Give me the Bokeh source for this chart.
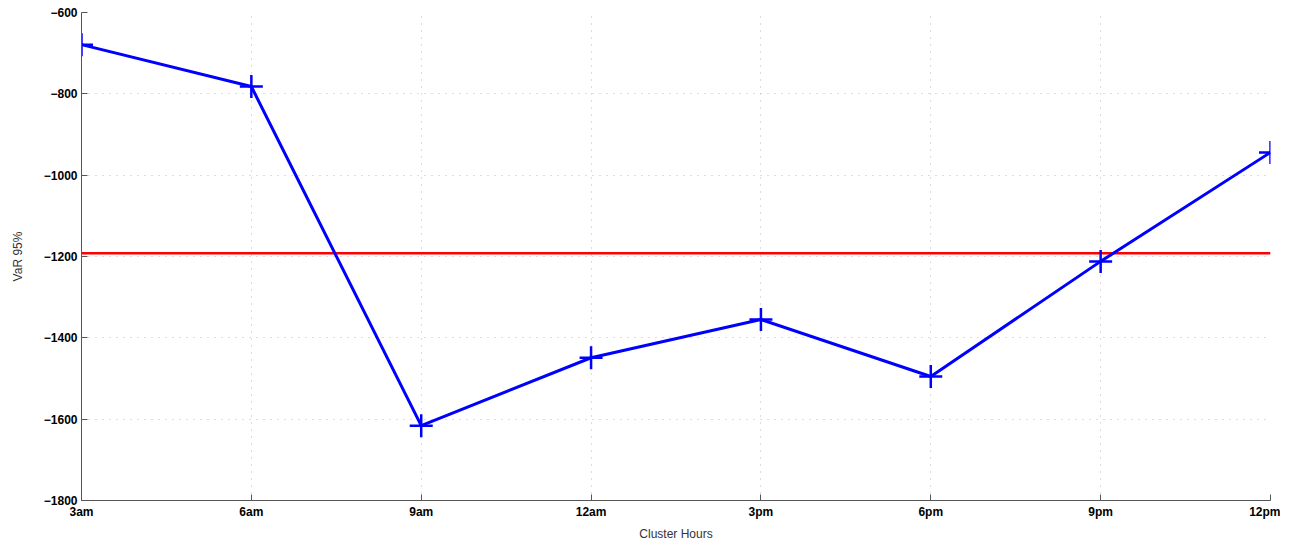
from bokeh.plotting import figure
from bokeh.models import Range1d, FixedTicker
from bokeh.embed import file_html
from bokeh.resources import INLINE

hours = ["3am", "6am", "9am", "12am", "3pm", "6pm", "9pm", "12pm"]
var95 = [-679, -782, -1616, -1449, -1355, -1495, -1212, -944]
threshold = [-1192, -1192, -1192, -1192, -1192, -1192, -1192, -1192]

xs = list(range(len(hours)))

p = figure(width=1280, height=544, output_backend="svg", toolbar_location=None,
           x_range=Range1d(0, len(hours) - 1), y_range=Range1d(-1800, -600),
           min_border_left=81, min_border_right=10, min_border_top=12, min_border_bottom=44)
p.outline_line_color = None
p.background_fill_color = "white"

p.line(xs, threshold, line_color="#ff0000", line_width=2.5)
p.line(xs, var95, line_color="#0000ff", line_width=3)
p.scatter(xs, var95, marker="cross", size=23, line_color="#0000ff", line_width=2.5)

p.xaxis.ticker = FixedTicker(ticks=xs)
p.xaxis.major_label_overrides = {i: h for i, h in enumerate(hours)}
p.yaxis.ticker = FixedTicker(ticks=[-1800, -1600, -1400, -1200, -1000, -800, -600])

for ax in (p.xaxis, p.yaxis):
    ax.axis_line_color = "#555555"
    ax.major_tick_line_color = "#555555"
    ax.major_tick_in = 6
    ax.major_tick_out = 0
    ax.minor_tick_line_color = None
    ax.major_label_text_font = "Liberation Sans"
    ax.major_label_text_font_style = "bold"
    ax.major_label_text_font_size = "12px"
    ax.major_label_text_color = "black"
    ax.axis_label_text_font = "Liberation Sans"
    ax.axis_label_text_font_style = "normal"
    ax.axis_label_text_font_size = "12px"
    ax.axis_label_text_color = "#333333"

p.xaxis.axis_label = "Cluster Hours"
p.yaxis.axis_label = "VaR 95%"
p.xaxis.major_label_standoff = 4
p.yaxis.major_label_standoff = 4
p.xaxis.axis_label_standoff = 5
p.yaxis.axis_label_standoff = 16

p.grid.grid_line_color = "#bbbbbb"
p.grid.grid_line_dash = "1 6"
p.grid.grid_line_width = 1

open("out.html", "w").write(file_html(p, INLINE))
